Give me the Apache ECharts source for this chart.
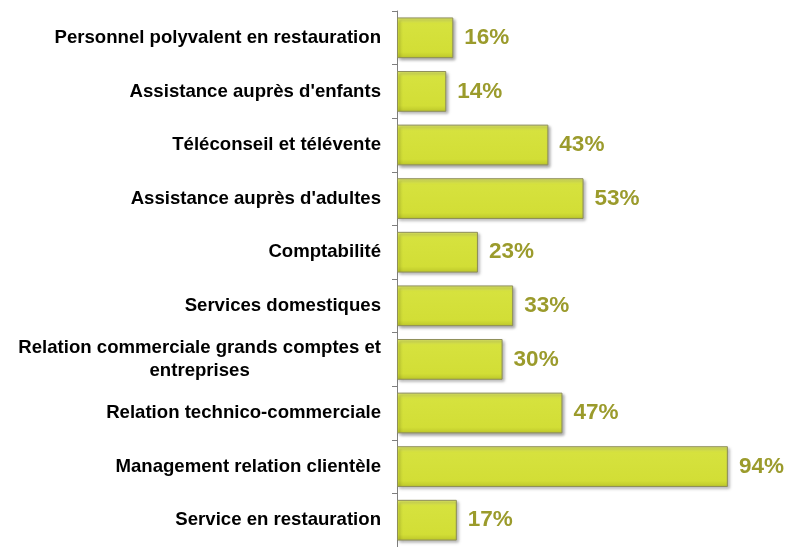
<!DOCTYPE html>
<html>
<head>
<meta charset="utf-8">
<script src="https://cdn.jsdelivr.net/npm/echarts@6/dist/echarts.min.js"></script>
<style>
    html, body { margin: 0; padding: 0; background: #fff; }
    #chart { width: 786px; height: 547px; }
</style>
</head>
<body>
<div id="chart"></div>
<script>
// categories, top to bottom
const categories = [
    'Personnel polyvalent en restauration',
    "Assistance auprès d'enfants",
    'Téléconseil et télévente',
    "Assistance auprès d'adultes",
    'Comptabilité',
    'Services domestiques',
    'Relation commerciale grands comptes et\nentreprises',
    'Relation technico-commerciale',
    'Management relation clientèle',
    'Service en restauration'
];
const values = [16, 14, 43, 53, 23, 33, 30, 47, 94, 17];

const chart = echarts.init(document.getElementById('chart'));

chart.setOption({
    animation: false,
    grid: {
        left: 397,
        right: 37,
        top: 11,
        bottom: -5,
        containLabel: false
    },
    xAxis: {
        type: 'value',
        min: 0,
        max: 100,
        show: false
    },
    yAxis: {
        type: 'category',
        data: categories,
        inverse: true,
        axisLine: {
            show: true,
            lineStyle: { color: '#7f7f7f', width: 1 }
        },
        axisTick: {
            show: true,
            length: 5,
            lineStyle: { color: '#7f7f7f' }
        },
        axisLabel: {
            margin: 16,
            align: 'right',
            formatter(value) {
                // wrapped labels: each line centred in the block
                return value.split('\n').map(s => '{c|' + s + '}').join('\n');
            },
            rich: {
                c: {
                    align: 'center',
                    color: '#000',
                    fontFamily: 'Arial, "Liberation Sans", sans-serif',
                    fontWeight: 'bold',
                    fontSize: 18.6,
                    lineHeight: 23
                }
            }
        }
    },
    series: [
        {
            type: 'bar',
            data: values,
            barCategoryGap: '24%',
            itemStyle: {
                color: {
                    type: 'linear',
                    x: 0, y: 0, x2: 0, y2: 1,
                    colorStops: [
                        { offset: 0, color: '#e2ec6a' },
                        { offset: 0.15, color: '#d6e23e' },
                        { offset: 0.85, color: '#d2de36' },
                        { offset: 1, color: '#bcc62a' }
                    ]
                },
                borderColor: '#8e8e5a',
                borderWidth: 1,
                shadowColor: 'rgba(0, 0, 0, 0.35)',
                shadowBlur: 3,
                shadowOffsetX: 2,
                shadowOffsetY: 2
            },
            label: {
                show: true,
                position: 'right',
                distance: 11,
                formatter: '{c}%',
                color: '#9b9b2c',
                fontFamily: 'Arial, "Liberation Sans", sans-serif',
                fontWeight: 'bold',
                fontSize: 22.5
            }
        }
    ]
});
</script>
</body>
</html>
